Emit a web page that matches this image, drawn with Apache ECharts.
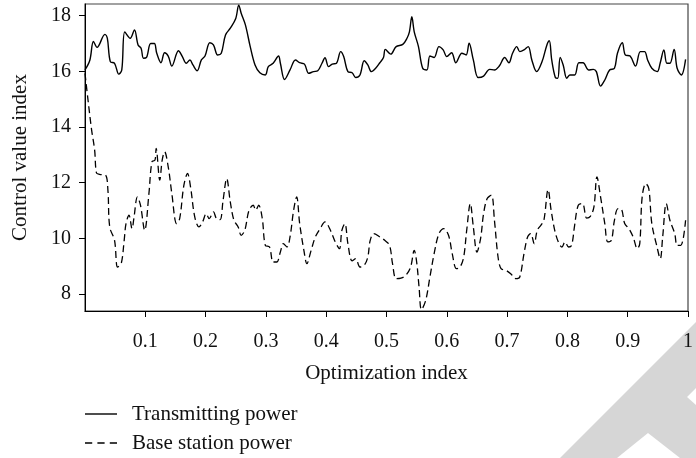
<!DOCTYPE html>
<html>
<head>
<meta charset="utf-8">
<script src="https://cdn.jsdelivr.net/npm/echarts@6/dist/echarts.min.js"></script>
<style>
  html, body { margin: 0; padding: 0; background: #fff; }
  #chart { width: 696px; height: 458px; }
</style>
</head>
<body>
<div id="chart"></div>
<script>
// transmitting power (solid)
var tpX = [0.000, 0.008, 0.014, 0.020, 0.033, 0.037, 0.042, 0.049, 0.056, 0.061, 0.066, 0.075, 0.082, 0.088, 0.093, 0.097,
  0.102, 0.109, 0.115, 0.119, 0.126, 0.132, 0.138, 0.144, 0.155, 0.161, 0.168, 0.174, 0.179, 0.186, 0.193, 0.199,
  0.207, 0.213, 0.220, 0.226, 0.233, 0.241, 0.250, 0.255, 0.259, 0.266, 0.274, 0.282, 0.290, 0.299,
  0.304, 0.312, 0.321, 0.324, 0.331, 0.340, 0.349, 0.356, 0.364, 0.371, 0.379, 0.386, 0.393, 0.398,
  0.404, 0.410, 0.417, 0.424, 0.429, 0.436, 0.443, 0.449, 0.456, 0.463, 0.469, 0.475, 0.482, 0.489, 0.495, 0.498,
  0.507, 0.516, 0.527, 0.534, 0.538, 0.542, 0.546, 0.553, 0.560, 0.567, 0.572, 0.579, 0.587, 0.594,
  0.600, 0.608, 0.615, 0.625, 0.632, 0.637, 0.644, 0.652, 0.661, 0.671, 0.679, 0.687, 0.696,
  0.703, 0.709, 0.716, 0.721, 0.728, 0.735, 0.741, 0.749, 0.758, 0.766, 0.770, 0.774, 0.780, 0.784, 0.788, 0.793, 0.799,
  0.804, 0.812, 0.819, 0.826, 0.835, 0.843, 0.848, 0.855, 0.862, 0.870, 0.878, 0.883, 0.891, 0.896,
  0.904, 0.913, 0.921, 0.928, 0.933, 0.940, 0.949, 0.954, 0.960, 0.965, 0.970, 0.977, 0.982, 0.989, 0.996];
var tpY = [16.05, 16.4, 17.07, 16.86, 17.33, 17.19, 16.35, 16.29, 15.9, 16.05, 17.42, 17.19, 17.49, 16.95, 16.83, 16.47,
  16.5, 17.0, 17.0, 16.65, 16.31, 16.67, 16.55, 16.19, 16.74, 16.55, 16.29, 16.41, 16.23, 16.02, 16.41, 16.55,
  17.03, 16.95, 16.59, 16.65, 17.31, 17.55, 17.9, 18.38, 18.09, 17.67, 16.89, 16.23, 15.95, 15.87,
  16.17, 16.29, 16.55, 16.29, 15.71, 16.05, 16.41, 16.31, 16.26, 15.93, 15.99, 16.02, 16.29, 16.49,
  16.17, 16.26, 16.29, 16.71, 16.53, 15.99, 15.95, 15.78, 15.87, 16.38, 16.23, 15.99, 16.11, 16.31, 16.5, 16.79,
  16.62, 16.89, 16.97, 17.19, 17.42, 17.96, 17.42, 16.89, 16.11, 16.05, 16.55, 16.5, 16.89, 16.77,
  16.53, 16.67, 16.31, 16.65, 16.59, 17.01, 16.41, 15.78, 15.83, 16.07, 16.05, 16.19, 16.5,
  16.31, 16.65, 16.89, 16.71, 16.77, 16.89, 16.41, 15.99, 16.35, 16.95, 17.1, 16.41, 15.78, 15.75, 16.5, 16.23, 15.75,
  15.87, 15.87, 16.31, 16.31, 16.05, 16.07, 15.99, 15.47, 15.69, 16.05, 16.11, 16.65, 17.03, 16.59,
  16.55, 16.19, 16.71, 16.71, 16.41, 16.11, 15.99, 16.31, 16.77, 16.29, 16.29, 16.79, 16.11, 15.87, 16.43];

// base station power (dashed)
var bsX = [0.000, 0.005, 0.011, 0.016, 0.019, 0.024, 0.034, 0.038, 0.041, 0.049, 0.054, 0.060, 0.065, 0.068, 0.073, 0.078,
  0.081, 0.087, 0.092, 0.099, 0.106, 0.111, 0.116, 0.118, 0.124, 0.128, 0.132, 0.138, 0.144, 0.152, 0.157,
  0.164, 0.170, 0.175, 0.182, 0.189, 0.195, 0.201, 0.206, 0.213, 0.218, 0.224, 0.229, 0.235, 0.241, 0.247,
  0.254, 0.259, 0.265, 0.272, 0.279, 0.283, 0.288, 0.294, 0.299, 0.306, 0.312, 0.318, 0.324, 0.329, 0.335,
  0.340, 0.346, 0.351, 0.356, 0.363, 0.368, 0.375, 0.382, 0.390, 0.398, 0.407, 0.415, 0.422, 0.426, 0.431,
  0.436, 0.443, 0.449, 0.456, 0.463, 0.469, 0.473, 0.479, 0.489, 0.497, 0.505, 0.510, 0.516, 0.524, 0.532,
  0.540, 0.546, 0.550, 0.554, 0.558, 0.565, 0.572, 0.579, 0.587, 0.595, 0.603, 0.609, 0.616, 0.622, 0.628,
  0.633, 0.639, 0.644, 0.650, 0.656, 0.661, 0.667, 0.674, 0.679, 0.685, 0.690, 0.698, 0.706, 0.715, 0.721,
  0.728, 0.734, 0.739, 0.745, 0.750, 0.756, 0.761, 0.768, 0.773, 0.779, 0.785, 0.791, 0.796, 0.802, 0.807,
  0.812, 0.818, 0.825, 0.832, 0.838, 0.844, 0.849, 0.855, 0.862, 0.867, 0.873, 0.878, 0.884, 0.890, 0.895,
  0.902, 0.909, 0.916, 0.920, 0.924, 0.930, 0.935, 0.940, 0.948, 0.954, 0.958, 0.964, 0.970, 0.978, 0.982, 0.988, 0.996];
var bsY = [15.93, 14.97, 13.89, 13.17, 12.35, 12.3, 12.27, 11.73, 10.41, 9.93, 8.97, 9.09, 9.93, 10.53, 10.83, 10.35,
  10.71, 11.49, 11.19, 10.29, 11.61, 12.75, 12.81, 13.23, 12.09, 12.81, 13.11, 12.57, 11.61, 10.53, 10.71,
  11.91, 12.33, 11.85, 10.77, 10.41, 10.59, 10.89, 10.71, 10.95, 10.71, 10.67, 11.37, 12.15, 11.3, 10.65,
  10.41, 10.11, 10.29, 11.01, 11.19, 11.01, 11.19, 10.71, 9.75, 9.69, 9.15, 9.15, 9.51, 9.81, 9.69,
  10.05, 11.01, 11.49, 10.53, 9.57, 9.09, 9.57, 10.05, 10.35, 10.59, 10.29, 9.87, 9.63, 10.29, 10.53,
  9.81, 9.19, 9.27, 8.97, 9.03, 9.33, 9.93, 10.17, 10.05, 9.93, 9.75, 9.09, 8.55, 8.57, 8.67,
  8.97, 9.57, 9.15, 8.25, 7.44, 7.77, 8.61, 9.45, 10.17, 10.35, 10.1, 9.45, 8.91, 8.97, 9.33,
  10.29, 11.25, 10.41, 9.51, 9.99, 10.89, 11.43, 11.55, 10.65, 9.33, 8.91, 8.85, 8.73, 8.55, 8.61,
  9.45, 10.05, 10.17, 9.81, 10.29, 10.47, 10.65, 11.75, 11.01, 10.29, 9.87, 9.69, 9.87, 9.69, 9.75,
  10.47, 11.19, 11.25, 10.73, 10.79, 11.13, 12.21, 11.49, 10.53, 9.87, 9.93, 10.65, 11.07, 11.03, 10.53,
  10.35, 10.05, 9.63, 9.81, 11.49, 11.97, 11.79, 10.53, 9.75, 9.27, 10.05, 11.25, 10.65, 10.17, 9.75, 9.75, 10.65];

var xTicks = [0.1, 0.2, 0.3, 0.4, 0.5, 0.6, 0.7, 0.8, 0.9, 1];
var yTicks = [8, 10, 12, 14, 16, 18];

function pairs(xs, ys) {
  return xs.map(function (x, i) { return [x, ys[i]]; });
}

var font = 'Liberation Serif';
var legendText = { fontFamily: font, fontSize: 21, lineHeight: 22, color: '#111', padding: [0, 0, 0, 10] };
var myChart = echarts.init(document.getElementById('chart'));
myChart.setOption({
  animation: false,
  backgroundColor: '#fff',
  textStyle: { fontFamily: font, color: '#111' },
  grid: {
    left: 85, top: 4, right: -2, bottom: 147,
    show: true, borderColor: '#444', borderWidth: 1.2
  },
  graphic: [{
    type: 'polygon',
    z: -1,
    shape: { points: [[696, 322], [560, 458], [617, 458], [648, 433], [680, 458], [696, 458], [696, 405], [687, 397], [696, 388]] },
    style: { fill: '#d6d6d6' }
  }],
  legend: [
    {
      left: 85, top: 403, padding: 0,
      itemWidth: 32, itemHeight: 2,
      textStyle: legendText,
      data: [{ name: 'Transmitting power', icon: 'path://M0,0L32,0L32,1.4L0,1.4Z', itemStyle: { color: '#000' } }]
    },
    {
      left: 85, top: 432, padding: 0,
      itemWidth: 32, itemHeight: 2,
      textStyle: legendText,
      data: [{ name: 'Base station power', icon: 'path://M0,0L7,0L7,1.4L0,1.4Z M12,0L19,0L19,1.4L12,1.4Z M24,0L31,0L31,1.4L24,1.4Z', itemStyle: { color: '#000' } }]
    }
  ],
  xAxis: {
    type: 'value',
    min: 0, max: 1,
    name: 'Optimization index',
    nameLocation: 'middle',
    nameGap: 52,
    nameTextStyle: { fontFamily: font, fontSize: 21, color: '#111' },
    splitLine: { show: false },
    axisLine: { show: true, lineStyle: { color: '#000', width: 1 } },
    axisTick: { show: true, length: 6, customValues: xTicks, lineStyle: { color: '#000' } },
    axisLabel: { customValues: xTicks, margin: 21, fontFamily: font, fontSize: 20, color: '#111' }
  },
  yAxis: {
    type: 'value',
    min: 7.39, max: 18.42,
    name: 'Control value index',
    nameLocation: 'middle',
    nameGap: 54,
    nameTextStyle: { fontFamily: font, fontSize: 21, color: '#111' },
    splitLine: { show: false },
    axisLine: { show: true, lineStyle: { color: '#000', width: 1 } },
    axisTick: { show: true, length: 6, customValues: yTicks, lineStyle: { color: '#000' } },
    axisLabel: { customValues: yTicks, margin: 14, fontFamily: font, fontSize: 20, color: '#111' }
  },
  series: [
    {
      name: 'Transmitting power',
      type: 'line',
      smooth: 0.35,
      symbol: 'none',
      data: pairs(tpX, tpY),
      lineStyle: { color: '#000', width: 1.4 },
      itemStyle: { color: '#000' }
    },
    {
      name: 'Base station power',
      type: 'line',
      smooth: 0.35,
      symbol: 'none',
      data: pairs(bsX, bsY),
      lineStyle: { color: '#000', width: 1.3, type: [7, 4] },
      itemStyle: { color: '#000' }
    }
  ]
});
</script>
</body>
</html>
